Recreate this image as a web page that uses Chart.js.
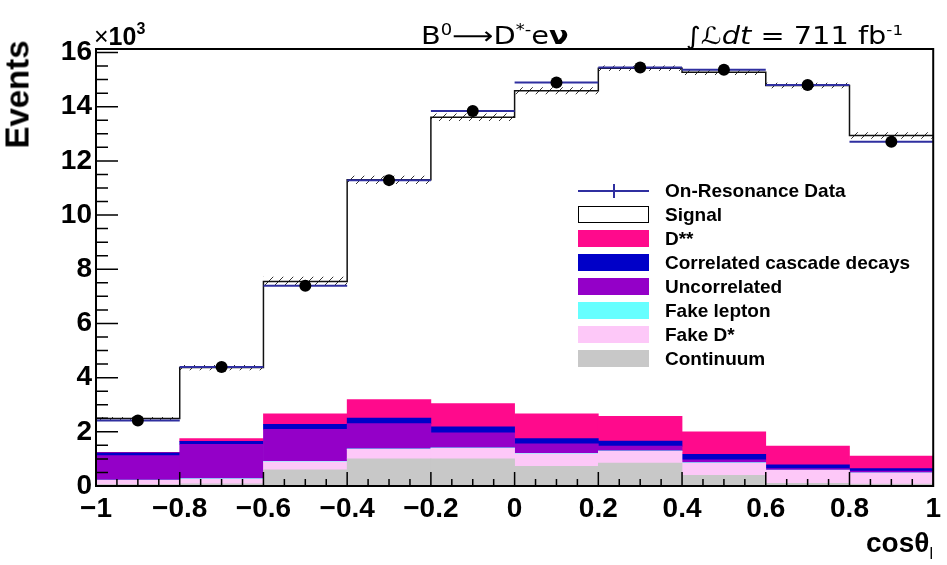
<!DOCTYPE html>
<html>
<head>
<meta charset="utf-8">
<script src="https://cdn.jsdelivr.net/npm/chart.js@4.4.0/dist/chart.umd.min.js"></script>
<style>
  html, body { margin: 0; padding: 0; background: #fff; }
  #wrap { position: relative; width: 947px; height: 565px; font-family: "Liberation Sans", Arial, sans-serif; color: #000; }
  #c { position: absolute; left: 0; top: 0; }
  .txt { position: absolute; white-space: nowrap; }
  .dj { font-family: "DejaVu Sans", sans-serif; transform: scaleX(1.2); transform-origin: 0 0; }
  .lg-row { position: absolute; left: 578px; height: 24px; width: 360px; }
  .lg-sw { position: absolute; left: 0; top: 3px; width: 71px; height: 17px; box-sizing: border-box; }
  .lg-tx { position: absolute; left: 87px; top: 0; line-height: 24px; font-weight: bold; font-size: 19px; }
</style>
</head>
<body>
<div id="wrap">
  <canvas id="c" width="947" height="565"></canvas>
  <div class="txt" style="left:94px;top:18px;font-size:25px;line-height:25px;">×<b>10</b><sup style="font-size:16px;font-weight:bold;position:relative;top:-2px;">3</sup></div>
  <div class="txt dj" style="left:421px;top:18px;font-size:24px;line-height:24px;">B<sup style="font-size:15px;">0</sup>⟶D<sup style="font-size:15px;">*-</sup>e<b>ν</b></div>
  <div class="txt dj" style="left:686px;top:18px;font-size:24px;line-height:24px;">∫<i>ℒdt</i> = 711 fb<sup style="font-size:14px;">-1</sup></div>
  <div class="txt" style="left:-53px;top:78px;width:140px;text-align:center;font-size:33px;line-height:33px;font-weight:bold;transform:rotate(-90deg);">Events</div>
  <div class="txt" style="left:866px;top:529px;font-size:28px;line-height:28px;font-weight:bold;">cosθ<sub style="font-size:16px;font-weight:normal;">l</sub></div>
  <div id="legend"></div>
</div>
<script>
// binning in cos(theta_l)
const binEdges   = [-1, -0.8, -0.6, -0.4, -0.2, 0, 0.2, 0.4, 0.6, 0.8, 1];
const binCenters = [-0.9, -0.7, -0.5, -0.3, -0.1, 0.1, 0.3, 0.5, 0.7, 0.9];

// events / 10^3
const dataEvents   = [2.42, 4.39, 7.39, 11.29, 13.84, 14.89, 15.45, 15.36, 14.80, 12.71];
const signal       = [1.25, 2.62, 4.89, 8.11, 10.57, 11.93, 12.85, 13.27, 13.31, 11.84];
const dstarstar    = [0.02, 0.10, 0.38, 0.68, 0.86, 0.91, 0.91, 0.83, 0.69, 0.46];
const cascade      = [0.10, 0.11, 0.19, 0.21, 0.22, 0.19, 0.19, 0.20, 0.14, 0.09];
const uncorrelated = [0.90, 1.27, 1.18, 0.93, 0.55, 0.35, 0.17, 0.11, 0.05, 0.06];
const fakeLepton   = [0.01, 0.01, 0.02, 0.02, 0.02, 0.02, 0.02, 0.01, 0.01, 0.01];
const fakeDstar    = [0.16, 0.18, 0.29, 0.35, 0.39, 0.46, 0.43, 0.46, 0.48, 0.41];
const continuum    = [0.05, 0.08, 0.60, 1.00, 1.00, 0.73, 0.85, 0.39, 0.10, 0.07];
const mcError      = [0.06, 0.10, 0.17, 0.15, 0.14, 0.13, 0.10, 0.10, 0.10, 0.12];

const xTicks = [-1, -0.8, -0.6, -0.4, -0.2, 0, 0.2, 0.4, 0.6, 0.8, 1];
const yTicks = [0, 2, 4, 6, 8, 10, 12, 14, 16];
const yMax = 16.13;

// stack, bottom first
const stackNames  = ['Continuum', 'Fake D*', 'Fake lepton', 'Uncorrelated', 'Correlated cascade decays', 'D**', 'Signal'];
const stackValues = [continuum, fakeDstar, fakeLepton, uncorrelated, cascade, dstarstar, signal];
const stackColors = ['#c8c8c8', '#fdc8f8', '#66ffff', '#9400c8', '#0000c8', '#ff0a8c', '#ffffff'];

const mcTotal = binCenters.map((_, i) => stackValues.reduce((s, arr) => s + arr[i], 0));

Chart.defaults.font.family = '"Liberation Sans", Arial, sans-serif';
Chart.defaults.color = '#000';

const ctx = document.getElementById('c');
const g2d = ctx.getContext('2d');

function hatchPattern() {
  const c = document.createElement('canvas');
  c.width = 10; c.height = 10;
  const g = c.getContext('2d');
  g.strokeStyle = '#333';
  g.lineWidth = 1;
  g.beginPath(); g.moveTo(-1, 11); g.lineTo(11, -1); g.stroke();
  return g2d.createPattern(c, 'repeat');
}

// step helpers: value held from left edge to next edge
function steps(vals) {
  const pts = vals.map((v, i) => ({x: binEdges[i], y: v}));
  pts.push({x: binEdges[binEdges.length - 1], y: vals[vals.length - 1]});
  return pts;
}

const barSets = stackValues.map((arr, k) => ({
  type: 'bar',
  label: stackNames[k],
  data: arr.map((v, i) => ({x: binCenters[i], y: v})),
  backgroundColor: stackColors[k],
  borderWidth: 0,
  barPercentage: 1,
  categoryPercentage: 1,
  order: 10
}));

const dataSegs = [];
dataEvents.forEach((v, i) => {
  dataSegs.push({x: binEdges[i], y: v}, {x: binEdges[i + 1], y: v}, {x: binEdges[i + 1], y: null});
});

const overlaySets = [
  {
    type: 'line', label: 'band up', yAxisID: 'yo',
    data: steps(mcTotal.map((v, i) => v + mcError[i])),
    stepped: true, borderWidth: 0, pointRadius: 0,
    fill: '+1', backgroundColor: hatchPattern(), order: 4
  },
  {
    type: 'line', label: 'band down', yAxisID: 'yo',
    data: steps(mcTotal.map((v, i) => v - mcError[i])),
    stepped: true, borderWidth: 0, pointRadius: 0, fill: false, order: 4
  },
  {
    type: 'line', label: 'MC', yAxisID: 'yo',
    data: steps(mcTotal),
    stepped: true, borderColor: '#111', borderWidth: 1.5, pointRadius: 0, fill: false, order: 3
  },
  {
    type: 'line', label: 'On-Resonance Data', yAxisID: 'yo',
    data: dataSegs, spanGaps: false,
    borderColor: '#2f2fa0', borderWidth: 2, pointRadius: 0, fill: false, order: 2
  },
  {
    type: 'line', label: 'data points', yAxisID: 'yo',
    data: dataEvents.map((v, i) => ({x: binCenters[i], y: v})),
    showLine: false, pointRadius: 6, pointBackgroundColor: '#000', pointBorderWidth: 0, order: 1
  }
];

const frameTicks = {
  id: 'frameTicks',
  afterDatasetsDraw(chart) {
    const {ctx, chartArea: a, scales: {x, y}} = chart;
    ctx.save();
    ctx.strokeStyle = '#000';
    ctx.lineWidth = 1.5;
    ctx.beginPath();
    for (let k = 0; k <= 32; k++) {
      const py = y.getPixelForValue(k * 0.5);
      const len = k % 4 === 0 ? 22 : 12;
      ctx.moveTo(a.left, py); ctx.lineTo(a.left + len, py);
    }
    for (let k = 0; k <= 40; k++) {
      const px = x.getPixelForValue(-1 + k * 0.05);
      const len = k % 4 === 0 ? 14 : 7;
      ctx.moveTo(px, a.bottom); ctx.lineTo(px, a.bottom - len);
    }
    ctx.stroke();
    ctx.lineWidth = 2;
    ctx.strokeRect(a.left, a.top, a.right - a.left, a.bottom - a.top);
    ctx.restore();
  }
};

new Chart(ctx, {
  type: 'bar',
  data: { datasets: barSets.concat(overlaySets) },
  options: {
    responsive: false,
    animation: false,
    devicePixelRatio: 1,
    layout: { padding: { top: 49, right: 12, bottom: 0, left: 0 } },
    plugins: { legend: { display: false }, tooltip: { enabled: false } },
    scales: {
      x: {
        type: 'linear', min: -1, max: 1, stacked: true, offset: false,
        grid: { display: false, drawTicks: false, offset: false },
        border: { display: false },
        afterBuildTicks: (s) => { s.ticks = xTicks.map(v => ({value: v})); },
        afterFit: (s) => { s.height = 79; },
        ticks: {
          padding: 6,
          font: { size: 28, weight: 'bold' },
          callback: (v) => String(v).replace('-', '\u2212')
        }
      },
      y: {
        min: 0, max: yMax, stacked: true,
        grid: { display: false, drawTicks: false },
        border: { display: false },
        afterBuildTicks: (s) => { s.ticks = yTicks.map(v => ({value: v})); },
        afterFit: (s) => { s.width = 96; },
        ticks: { padding: 4, font: { size: 28, weight: 'bold' } }
      },
      yo: { min: 0, max: yMax, display: false, stacked: false }
    }
  },
  plugins: [frameTicks]
});

// legend box
const legendItems = [{label: 'On-Resonance Data', kind: 'data'}];
for (let k = stackNames.length - 1; k >= 0; k--) {
  legendItems.push({label: stackNames[k], color: stackColors[k], kind: k === stackNames.length - 1 ? 'outline' : 'fill'});
}
const lg = document.getElementById('legend');
legendItems.forEach((it, r) => {
  const row = document.createElement('div');
  row.className = 'lg-row';
  row.style.top = (178.5 + r * 24) + 'px';
  let sw;
  if (it.kind === 'data') {
    sw = '<div style="position:absolute;left:0;top:11px;width:71px;height:2px;background:#2f2fa0"></div>' +
         '<div style="position:absolute;left:35px;top:5px;width:2px;height:14px;background:#2f2fa0"></div>';
  } else if (it.kind === 'outline') {
    sw = '<div class="lg-sw" style="background:#fff;border:1.5px solid #000"></div>';
  } else {
    sw = '<div class="lg-sw" style="background:' + it.color + '"></div>';
  }
  row.innerHTML = sw + '<div class="lg-tx">' + it.label + '</div>';
  lg.appendChild(row);
});
</script>
</body>
</html>
